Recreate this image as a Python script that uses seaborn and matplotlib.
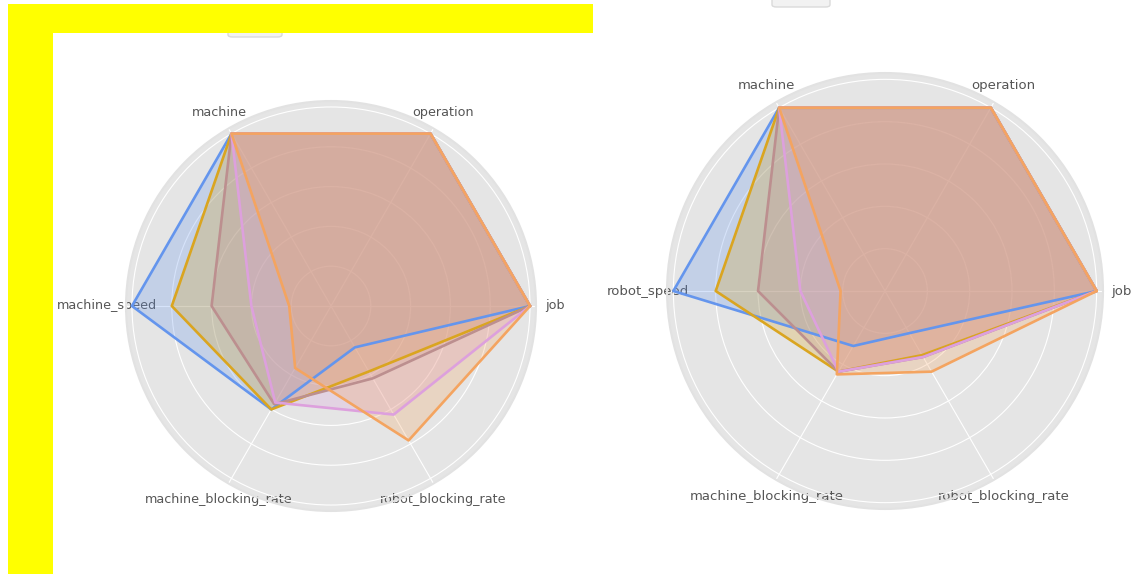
import numpy as np
import pandas as pd
import matplotlib
matplotlib.use("Agg")
import matplotlib.pyplot as plt
from matplotlib.patches import Rectangle, FancyBboxPatch
import seaborn as sns

# Radar axes (same order for both panels; only the speed axis differs)
categories_left = ["job", "operation", "machine", "machine_speed",
                   "machine_blocking_rate", "robot_blocking_rate"]
categories_right = ["job", "operation", "machine", "robot_speed",
                    "machine_blocking_rate", "robot_blocking_rate"]

# Normalised scores per configuration (left panel)
left_blue = [1.0, 1.0, 1.0, 1.0, 0.60, 0.24]
left_gold = [1.0, 1.0, 1.0, 0.80, 0.60, 0.38]
left_brown = [1.0, 1.0, 1.0, 0.60, 0.57, 0.42]
left_pink = [1.0, 1.0, 1.0, 0.40, 0.56, 0.63]
left_orange = [1.0, 1.0, 1.0, 0.21, 0.36, 0.78]

# Normalised scores per configuration (right panel)
right_blue = [1.0, 1.0, 1.0, 1.0, 0.30, 0.23]
right_gold = [1.0, 1.0, 1.0, 0.80, 0.44, 0.35]
right_brown = [1.0, 1.0, 1.0, 0.60, 0.44, 0.36]
right_pink = [1.0, 1.0, 1.0, 0.40, 0.44, 0.36]
right_orange = [1.0, 1.0, 1.0, 0.21, 0.455, 0.44]

series_colors = ["#6495ED", "#DAA520", "#BC8F8F", "#DDA0DD", "#F4A460"]

sns.set_style("darkgrid", {"axes.facecolor": "#E5E5E5",
                           "grid.color": "white",
                           "axes.edgecolor": "white"})
plt.rcParams["font.family"] = ["DejaVu Sans"]

fig = plt.figure(figsize=(11.32, 5.74), dpi=100)
fig.patch.set_facecolor("white")


def radar(rect, categories, series, label_size):
    ax = fig.add_axes(rect, projection="polar")
    n = len(categories)
    angles = np.linspace(0, 2 * np.pi, n, endpoint=False)
    closed = np.append(angles, angles[0] + 2 * np.pi)
    for values, color in zip(series, series_colors):
        vals = np.append(values, values[0])
        df = pd.DataFrame({"angle": closed, "value": vals})
        sns.lineplot(data=df, x="angle", y="value", ax=ax, color=color,
                     linewidth=1.9, sort=False, estimator=None)
        ax.fill(closed, vals, color=color, alpha=0.26, linewidth=0)
    ax.set_ylim(0, 1.03)
    ax.set_yticks([0.2, 0.4, 0.6, 0.8, 1.0])
    ax.set_yticklabels([])
    ax.set_xticks(angles)
    ax.set_xticklabels(categories, fontsize=label_size, color="#555555")
    ax.tick_params(axis="x", pad=3)
    ax.set_xlabel("")
    ax.set_ylabel("")
    ax.grid(True, color="white", linewidth=0.8)
    ax.spines["polar"].set_color("#E2E2E2")
    ax.spines["polar"].set_linewidth(1.5)
    return ax


W, H = 1132, 574


def px_rect(x0, y0, x1, y1):
    return [x0 / W, 1 - y1 / H, (x1 - x0) / W, (y1 - y0) / H]


radar(px_rect(126, 101, 536, 511), categories_left,
      [left_blue, left_gold, left_brown, left_pink, left_orange], 9.2)
radar(px_rect(667, 73, 1103, 509), categories_right,
      [right_blue, right_gold, right_brown, right_pink, right_orange], 9.5)

# Legend frames sitting above each panel (only their lower edge shows)
for x0, x1, y1 in [(228, 282, 37), (772, 830, 7)]:
    fig.patches.append(FancyBboxPatch(
        (x0 / W, 1 - y1 / H), (x1 - x0) / W, 30 / H,
        boxstyle="round,pad=0,rounding_size=0.004",
        transform=fig.transFigure, facecolor="#F2F2F2",
        edgecolor="#DADADA", linewidth=1.0, zorder=5))

# Yellow highlight band along the top-left
for x0, y0, x1, y1 in [(8, 4, 593, 33), (8, 4, 53, 574)]:
    fig.patches.append(Rectangle(
        (x0 / W, 1 - y1 / H), (x1 - x0) / W, (y1 - y0) / H,
        transform=fig.transFigure, facecolor="#FFFF00",
        edgecolor="none", zorder=10))

fig.savefig("out.png", dpi=100, facecolor="white")
